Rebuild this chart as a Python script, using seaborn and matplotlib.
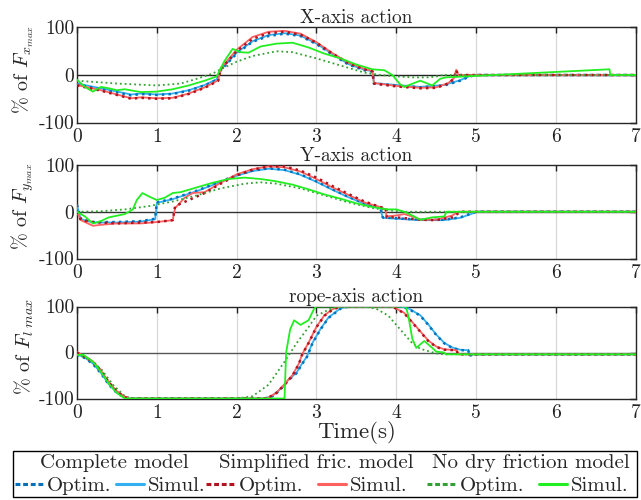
import matplotlib
matplotlib.use("Agg")
import matplotlib.pyplot as plt
import seaborn as sns
from matplotlib.lines import Line2D
from matplotlib.patches import Rectangle

# ---------------- data (time in s, value in % of max force) ----------------
# X-axis
x_cmp_opt_t = [0, 0.3, 0.68, 0.8, 1.0, 1.2, 1.4, 1.6, 1.75, 1.8, 2.0, 2.2, 2.4, 2.6, 2.8, 3.0, 3.2, 3.4, 3.6, 3.7, 3.72, 4.0, 4.3, 4.6, 4.8, 4.92, 5.0, 7.0]
x_cmp_opt_v = [-20, -30, -43, -40, -42, -40, -33, -22, -10, 10, 45, 70, 82, 87, 82, 65, 43, 22, 10, 7, -18, -22, -26, -22, -12, -3, 0, 0]
x_cmp_sim_t = [0, 0.3, 0.68, 0.8, 1.0, 1.2, 1.4, 1.6, 1.75, 1.8, 2.0, 2.2, 2.4, 2.6, 2.8, 3.0, 3.2, 3.4, 3.6, 3.7, 3.72, 4.0, 4.3, 4.6, 4.8, 4.92, 5.0, 7.0]
x_cmp_sim_v = [-18, -28, -41, -39, -41, -39, -32, -21, -9, 11, 47, 71, 84, 88, 83, 66, 44, 23, 11, 8, -17, -21, -25, -21, -11, -2, 0, 0]
x_smp_opt_t = [0, 0.3, 0.68, 0.8, 1.0, 1.2, 1.4, 1.6, 1.77, 1.8, 2.0, 2.2, 2.4, 2.6, 2.8, 3.0, 3.2, 3.4, 3.6, 3.7, 3.72, 4.0, 4.3, 4.5, 4.65, 4.72, 4.75, 4.78, 4.8, 7.0]
x_smp_opt_v = [-22, -33, -50, -48, -50, -49, -40, -27, -12, 12, 50, 76, 88, 91, 85, 68, 45, 25, 12, 8, -18, -24, -28, -27, -18, -8, 10, -2, 0, 0]
x_smp_sim_t = [0, 0.3, 0.68, 0.8, 1.0, 1.2, 1.4, 1.6, 1.77, 1.8, 2.0, 2.2, 2.4, 2.6, 2.8, 3.0, 3.2, 3.4, 3.6, 3.7, 3.72, 4.0, 4.3, 4.5, 4.65, 4.72, 4.75, 4.78, 4.8, 7.0]
x_smp_sim_v = [-21, -32, -49, -47, -49, -48, -39, -26, -11, 14, 53, 80, 91, 93, 87, 69, 46, 26, 13, 9, -17, -23, -27, -26, -17, -7, 11, -1, 0, 0]
x_nof_opt_t = [0, 0.5, 1.0, 1.3, 1.5, 1.7, 1.8, 2.0, 2.2, 2.5, 2.7, 3.0, 3.3, 3.6, 3.8, 4.0, 4.2, 4.4, 4.55, 4.6, 4.62, 7.0]
x_nof_opt_v = [-12, -18, -22, -18, -8, 3, 12, 28, 40, 50, 48, 35, 20, 5, 0, -3, -5, -5, -2, 2, 0, 0]
x_nof_sim_t = [0, 0.1, 0.2, 0.3, 0.4, 0.5, 0.6, 0.8, 1.0, 1.2, 1.4, 1.6, 1.75, 1.85, 1.95, 2.05, 2.15, 2.3, 2.5, 2.7, 2.9, 3.1, 3.3, 3.5, 3.7, 3.85, 3.95, 4.05, 4.1, 4.3, 4.45, 4.55, 4.62, 6.67, 6.68, 7.0]
x_nof_sim_v = [-10, -25, -35, -25, -28, -32, -30, -36, -35, -30, -22, -12, -3, 30, 55, 48, 47, 60, 66, 68, 58, 45, 35, 22, 12, 10, 0, -20, -25, -12, -22, -8, -5, 12, 0, 0]

# Y-axis
y_cmp_opt_t = [0, 0.05, 0.2, 0.5, 0.8, 0.98, 1.0, 1.2, 1.5, 1.8, 2.0, 2.2, 2.4, 2.6, 2.8, 3.0, 3.2, 3.4, 3.6, 3.8, 3.83, 4.0, 4.3, 4.6, 4.8, 4.95, 5.0, 7.0]
y_cmp_opt_v = [15, -15, -22, -22, -20, -15, 20, 28, 45, 65, 78, 88, 93, 90, 80, 65, 48, 32, 18, 8, -12, -14, -17, -17, -12, -3, 0, 0]
y_cmp_sim_t = [0, 0.05, 0.2, 0.5, 0.8, 0.98, 1.0, 1.2, 1.5, 1.8, 2.0, 2.2, 2.4, 2.6, 2.8, 3.0, 3.2, 3.4, 3.6, 3.8, 3.83, 4.0, 4.3, 4.6, 4.8, 4.95, 5.0, 7.0]
y_cmp_sim_v = [14, -16, -23, -23, -21, -16, 19, 27, 44, 64, 77, 87, 92, 89, 79, 64, 47, 31, 17, 7, -13, -15, -18, -18, -13, -4, 0, 0]
y_smp_opt_t = [0, 0.05, 0.2, 0.5, 0.8, 1.0, 1.2, 1.23, 1.4, 1.6, 1.8, 2.0, 2.2, 2.4, 2.6, 2.8, 3.0, 3.2, 3.4, 3.6, 3.8, 3.87, 3.88, 4.0, 4.3, 4.5, 4.7, 4.78, 4.8, 7.0]
y_smp_opt_v = [0, -18, -22, -25, -23, -22, -18, 12, 25, 40, 60, 78, 90, 97, 97, 88, 73, 55, 38, 22, 10, 8, -12, -12, -17, -18, -12, -3, 0, 0]
y_smp_sim_t = [0, 0.05, 0.2, 0.3, 0.5, 0.8, 1.0, 1.2, 1.23, 1.35, 1.45, 1.6, 1.8, 2.0, 2.2, 2.4, 2.6, 2.8, 3.0, 3.2, 3.4, 3.6, 3.8, 3.86, 3.88, 4.0, 4.1, 4.2, 4.3, 4.5, 4.7, 4.78, 7.0]
y_smp_sim_v = [0, -18, -30, -28, -25, -25, -22, -18, 8, 30, 40, 42, 62, 80, 91, 97, 95, 86, 70, 52, 36, 20, 10, 5, -10, -8, -5, -10, -17, -17, -8, 0, 0]
y_nof_opt_t = [0, 0.3, 0.6, 0.9, 1.2, 1.5, 1.8, 2.1, 2.3, 2.5, 2.8, 3.1, 3.4, 3.7, 3.9, 4.1, 4.6, 7.0]
y_nof_opt_v = [0, 1, 5, 12, 22, 35, 50, 60, 63, 60, 50, 35, 20, 8, 3, 0, 0, 0]
y_nof_sim_t = [0, 0.1, 0.2, 0.3, 0.4, 0.6, 0.7, 0.75, 0.82, 0.9, 1.0, 1.1, 1.2, 1.3, 1.5, 1.7, 1.9, 2.1, 2.3, 2.5, 2.7, 2.9, 3.1, 3.3, 3.5, 3.7, 3.9, 4.0, 4.1, 4.2, 4.3, 4.45, 4.6, 4.63, 7.0]
y_nof_sim_v = [0, -10, -25, -20, -12, -5, 5, 25, 40, 33, 25, 30, 40, 42, 52, 62, 70, 73, 70, 65, 58, 48, 37, 28, 18, 10, 5, 5, 0, -8, -17, -12, -10, 0, 0]

# rope-axis
r_cmp_opt_t = [0, 0.1, 0.2, 0.3, 0.4, 0.5, 0.6, 0.65, 2.35, 2.45, 2.55, 2.65, 2.75, 2.82, 2.88, 2.95, 3.05, 3.15, 3.3, 3.4, 4.05, 4.15, 4.3, 4.4, 4.5, 4.6, 4.7, 4.8, 4.9, 4.92, 4.95, 7.0]
r_cmp_opt_v = [-5, -12, -25, -45, -70, -88, -98, -100, -100, -95, -80, -60, -45, -25, -10, 20, 50, 75, 95, 100, 100, 95, 80, 60, 38, 20, 10, 5, 5, -8, -4, -4]
r_cmp_sim_t = [0, 0.1, 0.2, 0.3, 0.4, 0.5, 0.6, 0.65, 2.35, 2.45, 2.55, 2.65, 2.75, 2.82, 2.88, 2.95, 3.05, 3.15, 3.3, 3.4, 4.05, 4.15, 4.3, 4.4, 4.5, 4.6, 4.7, 4.8, 4.9, 4.92, 4.95, 7.0]
r_cmp_sim_v = [-4, -11, -24, -44, -69, -87, -97, -100, -100, -94, -79, -59, -44, -24, -9, 21, 51, 76, 96, 100, 100, 96, 81, 61, 39, 21, 11, 6, 5, -7, -4, -4]
r_smp_opt_t = [0, 0.1, 0.2, 0.3, 0.4, 0.5, 0.6, 0.65, 2.38, 2.5, 2.6, 2.7, 2.78, 2.82, 2.9, 3.0, 3.1, 3.2, 3.3, 3.95, 4.1, 4.2, 4.3, 4.4, 4.5, 4.6, 4.75, 4.78, 7.0]
r_smp_opt_v = [0, -10, -20, -40, -65, -85, -97, -100, -100, -88, -70, -50, -25, -5, 20, 55, 80, 93, 100, 100, 85, 65, 45, 25, 12, 6, 5, -4, -4]
r_smp_sim_t = [0, 0.1, 0.2, 0.3, 0.4, 0.5, 0.6, 0.65, 2.38, 2.5, 2.6, 2.7, 2.78, 2.82, 2.9, 3.0, 3.1, 3.2, 3.3, 3.95, 4.1, 4.2, 4.3, 4.4, 4.5, 4.6, 4.75, 4.78, 7.0]
r_smp_sim_v = [1, -9, -19, -39, -64, -84, -96, -100, -100, -87, -69, -49, -24, -4, 21, 56, 81, 94, 100, 100, 86, 66, 46, 26, 13, 7, 5, -4, -4]
r_nof_opt_t = [0, 0.1, 0.3, 0.45, 0.6, 0.7, 2.0, 2.2, 2.4, 2.6, 2.75, 2.9, 3.0, 3.2, 3.3, 3.6, 3.75, 3.9, 4.0, 4.1, 4.2, 4.3, 4.5, 4.6, 7.0]
r_nof_opt_v = [-5, -10, -35, -70, -95, -100, -100, -95, -70, -20, 20, 55, 80, 97, 100, 100, 95, 80, 60, 40, 20, 8, -2, -4, -4]
r_nof_sim_t = [0, 0.08, 0.2, 0.3, 0.4, 0.5, 0.6, 2.6, 2.62, 2.67, 2.72, 2.8, 2.9, 2.97, 3.0, 4.12, 4.15, 4.2, 4.25, 4.35, 4.45, 4.5, 4.6, 4.62, 7.0]
r_nof_sim_v = [-5, -5, -20, -42, -68, -88, -100, -100, 0, 50, 70, 60, 70, 95, 100, 100, 80, 30, 10, 25, 10, 2, 0, -4, -4]

panel_titles = ["X-axis action", "Y-axis action", "rope-axis action"]
panel_ylabels = [r"% of $F_{x_{max}}$", r"% of $F_{y_{max}}$", r"% of $F_{l\ max}$"]
group_names = ["Complete model", "Simplified fric. model", "No dry friction model"]
entry_names = ["Optim.", "Simul."]
x_ticks = [0, 1, 2, 3, 4, 5, 6, 7]
y_ticks = [-100, 0, 100]
y_tick_labels = ["-100", "0", "100"]

# ---------------- styling ----------------
sns.set_style("white")
plt.rcParams["font.family"] = ["cmr10", "DejaVu Serif"]
plt.rcParams["mathtext.fontset"] = "cm"
plt.rcParams["axes.unicode_minus"] = False
plt.rcParams["axes.formatter.use_mathtext"] = True

c_cmp_opt = "#0072BD"
c_cmp_sim = "#33B0F0"
c_smp_opt = "#B0141F"
c_smp_sim = "#FF6060"
c_nof_opt = "#33A033"
c_nof_sim = "#22EE22"

panels = [
    [(x_cmp_opt_t, x_cmp_opt_v), (x_cmp_sim_t, x_cmp_sim_v), (x_smp_opt_t, x_smp_opt_v),
     (x_smp_sim_t, x_smp_sim_v), (x_nof_opt_t, x_nof_opt_v), (x_nof_sim_t, x_nof_sim_v)],
    [(y_cmp_opt_t, y_cmp_opt_v), (y_cmp_sim_t, y_cmp_sim_v), (y_smp_opt_t, y_smp_opt_v),
     (y_smp_sim_t, y_smp_sim_v), (y_nof_opt_t, y_nof_opt_v), (y_nof_sim_t, y_nof_sim_v)],
    [(r_cmp_opt_t, r_cmp_opt_v), (r_cmp_sim_t, r_cmp_sim_v), (r_smp_opt_t, r_smp_opt_v),
     (r_smp_sim_t, r_smp_sim_v), (r_nof_opt_t, r_nof_opt_v), (r_nof_sim_t, r_nof_sim_v)],
]
styles = [
    (c_cmp_sim, "-", 1.3), (c_cmp_opt, ":", 1.8),
    (c_smp_sim, "-", 1.3), (c_smp_opt, ":", 1.8),
    (c_nof_opt, ":", 1.3), (c_nof_sim, "-", 1.3),
]
order = [1, 0, 3, 2, 4, 5]

fig = plt.figure(figsize=(6.41, 5.0), dpi=100)
axes_rects = [
    [0.120, 0.755, 0.872, 0.190],
    [0.120, 0.483, 0.872, 0.187],
    [0.120, 0.203, 0.872, 0.184],
]
zero_colors = ["#222222", "#333333", "#555555"]

for i, rect in enumerate(axes_rects):
    ax = fig.add_axes(rect)
    ax.axhline(0, color=zero_colors[i], lw=1.0, zorder=1)
    for k, idx in enumerate(order):
        t, v = panels[i][idx]
        col, ls, lw = styles[k]
        sns.lineplot(x=t, y=v, ax=ax, color=col, linestyle=ls, linewidth=lw,
                     estimator=None, sort=False, zorder=3 + k)
    ax.set_xlim(0, 7)
    ax.set_ylim(-100, 100)
    ax.set_xticks(x_ticks)
    ax.set_xticklabels([str(v) for v in x_ticks])
    ax.set_yticks(y_ticks)
    ax.set_yticklabels(y_tick_labels)
    ax.grid(axis="x", color="#d8d8d8", lw=0.9)
    ax.grid(axis="y", visible=False)
    ax.tick_params(direction="in", top=True, right=True, length=4, width=1.0,
                   labelsize=14, pad=2, colors="#222222")
    ax.tick_params(axis="x", pad=4)
    for s in ax.spines.values():
        s.set_color("#262626")
        s.set_linewidth(1.0)
    ax.set_title(panel_titles[i], fontsize=14, pad=3)
    ax.set_ylabel(panel_ylabels[i], fontsize=14.5, labelpad=0)
    ax.yaxis.set_label_coords(-0.073, 0.56)
    if i == 2:
        ax.set_xlabel("Time(s)", fontsize=16.5, labelpad=-1)
    else:
        ax.set_xlabel("")

# ---------------- legend ----------------
fig.patches.append(Rectangle((13 / 641, 3 / 500), 624 / 641, 46 / 500, transform=fig.transFigure,
                             facecolor="white", edgecolor="black", lw=1.0, zorder=0))
group_cols = [(c_cmp_opt, c_cmp_sim), (c_smp_opt, c_smp_sim), (c_nof_opt, c_nof_sim)]
header_x = [114 / 641, 316 / 641, 531 / 641]
entry_x = [110 / 641, 307 / 641, 528 / 641]
col_space = [0.2, 0.7, 0.7]
for name, (co, cs), hx, ex, cspc in zip(group_names, group_cols, header_x, entry_x, col_space):
    fig.text(hx, 1 - 463 / 500, name, ha="center", va="center", fontsize=15)
    handles = [Line2D([], [], color=co, ls=(0, (1.6, 0.9)), lw=2.2),
               Line2D([], [], color=cs, ls="-", lw=2.2)]
    fig.legend(handles, entry_names, loc="center", bbox_to_anchor=(ex, 1 - 486 / 500),
               ncol=2, frameon=False, fontsize=15, handlelength=1.35, handletextpad=0.2,
               columnspacing=cspc, borderpad=0.0, borderaxespad=0.0)

fig.savefig("out.png", dpi=100)
